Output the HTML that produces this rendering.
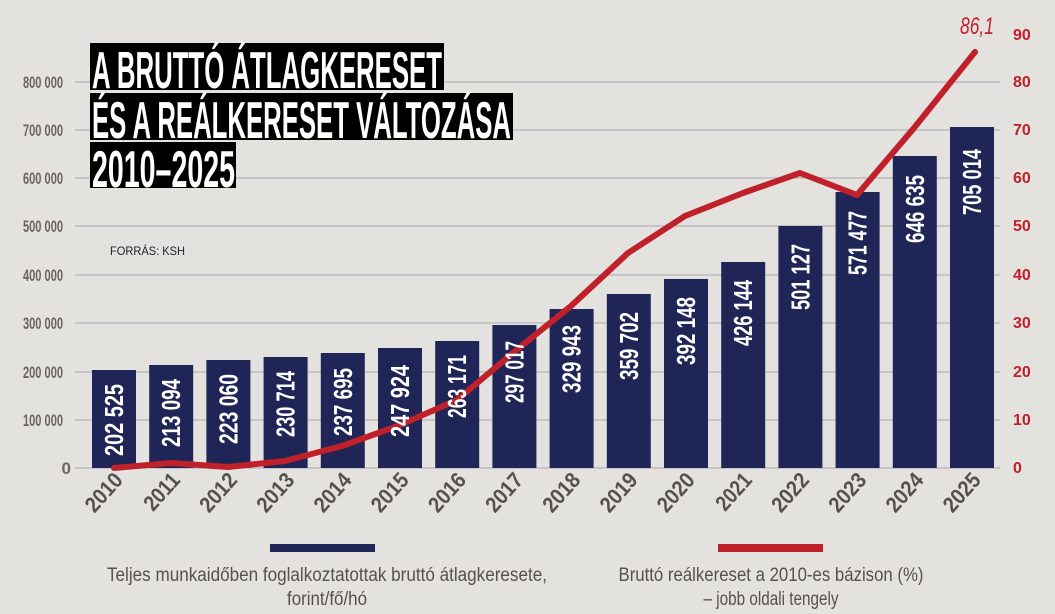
<!DOCTYPE html>
<html><head><meta charset="utf-8"><style>
body{margin:0;background:#e4e2df;}
svg{display:block;font-family:"Liberation Sans",sans-serif;}
</style></head><body>
<svg width="1055" height="614" viewBox="0 0 1055 614">
<rect width="1055" height="614" fill="#e4e2df"/>
<g stroke="#b3b3b7" stroke-width="1.2">
<line x1="75" x2="1000" y1="82" y2="82"/><line x1="75" x2="1000" y1="130" y2="130"/>
<line x1="75" x2="1000" y1="178" y2="178"/><line x1="75" x2="1000" y1="226" y2="226"/>
<line x1="75" x2="1000" y1="275" y2="275"/><line x1="75" x2="1000" y1="323" y2="323"/>
<line x1="75" x2="1000" y1="372" y2="372"/><line x1="75" x2="1000" y1="420" y2="420"/>
<line x1="75" x2="1000" y1="468" y2="468"/>
</g>
<g fill="#6b6461" font-weight="bold" font-size="17" text-anchor="end">
<text x="63" y="88" textLength="40" lengthAdjust="spacingAndGlyphs">800 000</text>
<text x="63" y="136" textLength="40" lengthAdjust="spacingAndGlyphs">700 000</text>
<text x="63" y="184" textLength="40" lengthAdjust="spacingAndGlyphs">600 000</text>
<text x="63" y="232" textLength="40" lengthAdjust="spacingAndGlyphs">500 000</text>
<text x="63" y="281" textLength="40" lengthAdjust="spacingAndGlyphs">400 000</text>
<text x="63" y="329" textLength="40" lengthAdjust="spacingAndGlyphs">300 000</text>
<text x="63" y="378" textLength="40" lengthAdjust="spacingAndGlyphs">200 000</text>
<text x="63" y="426" textLength="40" lengthAdjust="spacingAndGlyphs">100 000</text>
<text x="71" y="474">0</text>
</g>
<g fill="#c0202a" font-weight="bold" font-size="16">
<text x="1013" y="40">90</text><text x="1013" y="87">80</text><text x="1013" y="135">70</text>
<text x="1013" y="183">60</text><text x="1013" y="231">50</text><text x="1013" y="280">40</text>
<text x="1013" y="328">30</text><text x="1013" y="377">20</text><text x="1013" y="425">10</text>
<text x="1013" y="473">0</text>
</g>
<g fill="#1f2657">
<rect x="92" y="370" width="44" height="98"/>
<rect x="149.2" y="365" width="44" height="103"/>
<rect x="206.4" y="360" width="44" height="108"/>
<rect x="263.6" y="357" width="44" height="111"/>
<rect x="320.8" y="353" width="44" height="115"/>
<rect x="378" y="348" width="44" height="120"/>
<rect x="435.2" y="341" width="44" height="127"/>
<rect x="492.4" y="325" width="44" height="143"/>
<rect x="549.6" y="309" width="44" height="159"/>
<rect x="606.8" y="294" width="44" height="174"/>
<rect x="664" y="279" width="44" height="189"/>
<rect x="721.2" y="262" width="44" height="206"/>
<rect x="778.4" y="226" width="44" height="242"/>
<rect x="835.6" y="192" width="44" height="276"/>
<rect x="892.8" y="156" width="44" height="312"/>
<rect x="950" y="127" width="44" height="341"/>
</g>
<polyline fill="none" stroke="#c0202a" stroke-width="6" stroke-linecap="round" stroke-linejoin="round"
points="114,468 171,463 228,467 285,461 342,446 400,425 457,400 514,352 571,306 628,253 685,216 743,193 800,173 857,195 914,128 975,52"/>
<g fill="#fff" font-weight="bold" font-size="26" text-anchor="end">
<text transform="translate(123,384) rotate(-90)" textLength="72" lengthAdjust="spacingAndGlyphs">202 525</text>
<text transform="translate(180.2,379) rotate(-90)" textLength="68" lengthAdjust="spacingAndGlyphs">213 094</text>
<text transform="translate(237.4,374) rotate(-90)" textLength="70" lengthAdjust="spacingAndGlyphs">223 060</text>
<text transform="translate(294.6,371) rotate(-90)" textLength="66" lengthAdjust="spacingAndGlyphs">230 714</text>
<text transform="translate(351.8,368) rotate(-90)" textLength="68" lengthAdjust="spacingAndGlyphs">237 695</text>
<text transform="translate(409,365) rotate(-90)" textLength="72" lengthAdjust="spacingAndGlyphs">247 924</text>
<text transform="translate(466.2,355) rotate(-90)" textLength="63" lengthAdjust="spacingAndGlyphs">263 171</text>
<text transform="translate(523.4,341) rotate(-90)" textLength="62" lengthAdjust="spacingAndGlyphs">297 017</text>
<text transform="translate(580.6,325) rotate(-90)" textLength="68" lengthAdjust="spacingAndGlyphs">329 943</text>
<text transform="translate(637.8,312) rotate(-90)" textLength="68" lengthAdjust="spacingAndGlyphs">359 702</text>
<text transform="translate(695,297) rotate(-90)" textLength="68" lengthAdjust="spacingAndGlyphs">392 148</text>
<text transform="translate(752.2,280) rotate(-90)" textLength="66" lengthAdjust="spacingAndGlyphs">426 144</text>
<text transform="translate(809.4,244) rotate(-90)" textLength="66" lengthAdjust="spacingAndGlyphs">501 127</text>
<text transform="translate(866.6,211) rotate(-90)" textLength="64" lengthAdjust="spacingAndGlyphs">571 477</text>
<text transform="translate(923.8,175) rotate(-90)" textLength="68" lengthAdjust="spacingAndGlyphs">646 635</text>
<text transform="translate(981,149) rotate(-90)" textLength="66" lengthAdjust="spacingAndGlyphs">705 014</text>
</g>
<g fill="#55514f" font-weight="bold" font-size="22" text-anchor="end">
<text transform="translate(124,481) rotate(-48)" textLength="44" lengthAdjust="spacingAndGlyphs">2010</text>
<text transform="translate(181.2,481) rotate(-48)" textLength="42" lengthAdjust="spacingAndGlyphs">2011</text>
<text transform="translate(238.4,481) rotate(-48)" textLength="44" lengthAdjust="spacingAndGlyphs">2012</text>
<text transform="translate(295.6,481) rotate(-48)" textLength="44" lengthAdjust="spacingAndGlyphs">2013</text>
<text transform="translate(352.8,481) rotate(-48)" textLength="44" lengthAdjust="spacingAndGlyphs">2014</text>
<text transform="translate(410,481) rotate(-48)" textLength="44" lengthAdjust="spacingAndGlyphs">2015</text>
<text transform="translate(467.2,481) rotate(-48)" textLength="44" lengthAdjust="spacingAndGlyphs">2016</text>
<text transform="translate(524.4,481) rotate(-48)" textLength="44" lengthAdjust="spacingAndGlyphs">2017</text>
<text transform="translate(581.6,481) rotate(-48)" textLength="44" lengthAdjust="spacingAndGlyphs">2018</text>
<text transform="translate(638.8,481) rotate(-48)" textLength="44" lengthAdjust="spacingAndGlyphs">2019</text>
<text transform="translate(696,481) rotate(-48)" textLength="44" lengthAdjust="spacingAndGlyphs">2020</text>
<text transform="translate(753.2,481) rotate(-48)" textLength="42" lengthAdjust="spacingAndGlyphs">2021</text>
<text transform="translate(810.4,481) rotate(-48)" textLength="44" lengthAdjust="spacingAndGlyphs">2022</text>
<text transform="translate(867.6,481) rotate(-48)" textLength="44" lengthAdjust="spacingAndGlyphs">2023</text>
<text transform="translate(924.8,481) rotate(-48)" textLength="44" lengthAdjust="spacingAndGlyphs">2024</text>
<text transform="translate(982,481) rotate(-48)" textLength="44" lengthAdjust="spacingAndGlyphs">2025</text>
</g>
<text x="960" y="34" fill="#c0202a" font-style="italic" font-size="24" textLength="34" lengthAdjust="spacingAndGlyphs">86,1</text>
<rect x="90" y="43" width="354" height="47" fill="#000"/>
<rect x="90" y="93" width="423" height="47" fill="#000"/>
<rect x="90" y="142" width="146" height="46" fill="#000"/>
<g fill="#fff" font-weight="bold" font-size="52">
<text x="92" y="88" textLength="350" lengthAdjust="spacingAndGlyphs">A BRUTTÓ ÁTLAGKERESET</text>
<text x="92" y="138" textLength="419" lengthAdjust="spacingAndGlyphs">ÉS A REÁLKERESET VÁLTOZÁSA</text>
<text x="92" y="187" textLength="143" lengthAdjust="spacingAndGlyphs">2010–2025</text>
</g>
<text x="110" y="255" fill="#222" font-size="12" textLength="75" lengthAdjust="spacingAndGlyphs">FORRÁS: KSH</text>
<rect x="270" y="544" width="105" height="8" fill="#1f2657"/>
<rect x="718" y="544" width="105" height="8" fill="#c0202a"/>
<g fill="#55514f" font-size="19" text-anchor="middle">
<text x="327" y="581" textLength="440" lengthAdjust="spacingAndGlyphs">Teljes munkaidőben foglalkoztatottak bruttó átlagkeresete,</text>
<text x="327" y="605" textLength="80" lengthAdjust="spacingAndGlyphs">forint/fő/hó</text>
<text x="771" y="581" textLength="305" lengthAdjust="spacingAndGlyphs">Bruttó reálkereset a 2010-es bázison (%)</text>
<text x="771" y="605" textLength="135" lengthAdjust="spacingAndGlyphs">– jobb oldali tengely</text>
</g>
</svg>
</body></html>
